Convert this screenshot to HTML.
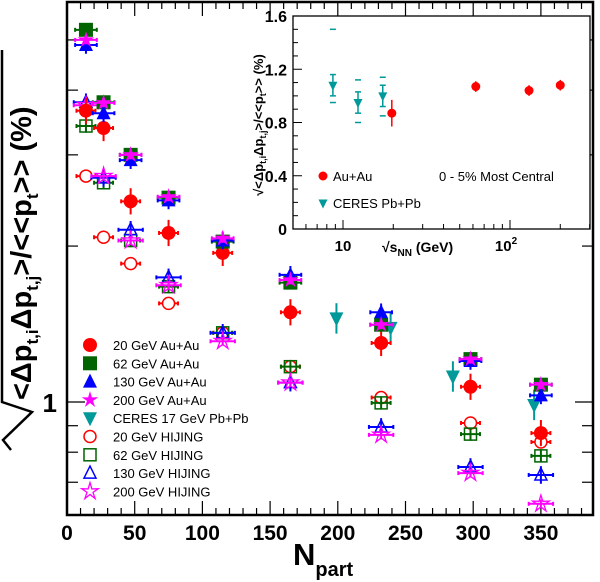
<!DOCTYPE html>
<html><head><meta charset="utf-8"><style>
body{margin:0;background:#fff}
svg{display:block;font-family:"Liberation Sans",Arial,sans-serif}
</style></head><body>
<svg id="c" width="600" height="582" viewBox="0 0 600 582"></svg>
<script>
// ---- main chart data ----
const npart = [14, 27, 47, 75, 115, 165, 232, 298, 350];
const au20 = [3.65, 3.38, 2.44, 2.12, 1.94, 1.49, 1.30, 1.07, 0.871];
const au62 = [5.23, 3.79, 3.00, 2.48, 2.04, 1.70, 1.41, 1.21, 1.08];
const au130 = [4.89, 3.61, 2.93, 2.45, 2.05, 1.76, 1.49, 1.20, 1.03];
const au200 = [5.00, 3.78, 3.00, 2.49, 2.07, 1.72, 1.41, 1.21, 1.08];
const ceresN = [199, 239, 285, 345];
const ceresV = [1.45, 1.39, 1.12, 0.987];
const hij20 = [2.73, 2.08, 1.85, 1.55, 1.36, 1.17, 1.02, 0.911, 0.837];
const hij62 = [3.41, 2.65, 2.05, 1.67, 1.36, 1.17, 0.996, 0.867, 0.787];
const hij130 = [3.79, 2.71, 2.15, 1.74, 1.36, 1.09, 0.895, 0.749, 0.723];
const hij200 = [3.74, 2.73, 2.05, 1.68, 1.31, 1.09, 0.864, 0.729, 0.636];
const xTicks = [0, 50, 100, 150, 200, 250, 300, 350];
const yTicks = [0.7, 0.8, 0.9, 1, 2, 3, 4, 5];
// ---- inset data ----
const insCeresE = [8.7, 12.3, 17.3];
const insCeresV = [1.08, 0.95, 1.00];
const insCeresSysHi = [1.50, 1.12, 1.14];
const insCeresSysLo = [0.95, 0.80, 0.85];
const insAuE = [19.6, 62.4, 130, 200];
const insAuV = [0.87, 1.07, 1.04, 1.08];
const insYTicks = [0, 0.4, 0.8, 1.2, 1.6];

const svg = document.getElementById('c');
const NS = 'http://www.w3.org/2000/svg';
function mk(tag, at, parent){const e=document.createElementNS(NS,tag);for(const k in at)e.setAttribute(k,at[k]);(parent||svg).appendChild(e);return e;}

const L=67,R=593,T=2,B=515;
const X = n => L + n*1.354;
const Y = v => 402 - 518*Math.log10(v);

const frame = mk('rect',{x:L,y:T,width:R-L,height:B-T,fill:'none',stroke:'#000','stroke-width':2.5});



for(let n=0;n<=385;n+=10){
  const len = n%50===0?14:7;
  mk('line',{x1:X(n),x2:X(n),y1:B,y2:B-len,stroke:'#000','stroke-width':1.2});
  mk('line',{x1:X(n),x2:X(n),y1:T,y2:T+len,stroke:'#000','stroke-width':1.2});
}
xTicks.forEach(t=>{
  const tx=mk('text',{x:X(t),y:540,'text-anchor':'middle','font-size':21,'font-weight':'bold'});
  tx.textContent=t;
  
  
});
yTicks.forEach(v=>{
  const len = v===1?18:11;
  mk('line',{x1:L,x2:L+len,y1:Y(v),y2:Y(v),stroke:'#000','stroke-width':1.2});
  mk('line',{x1:R,x2:R-len,y1:Y(v),y2:Y(v),stroke:'#000','stroke-width':1.2});
});
const one=mk('text',{x:57,y:Y(1)+10,'text-anchor':'end','font-size':26,'font-weight':'bold'});
one.textContent='1';



const xt=mk('text',{x:293,y:565,'font-size':31,'font-weight':'bold'});
xt.innerHTML='N<tspan font-size="20" dy="11">part</tspan>';



const ytg=mk('g',{transform:'translate(33,250) rotate(-90)'});


mk('path',{d:'M-200,-22 L-190,-30 L-162,-1 L-152,-31 L200,-31',fill:'none',stroke:'#000','stroke-width':2.5},ytg);
const yt=mk('text',{x:-150,y:-2,'font-size':29,'font-weight':'bold'},ytg);
yt.innerHTML='&lt;Δp<tspan font-size="17" dy="7">t,i</tspan><tspan dy="-7">Δp</tspan><tspan font-size="17" dy="7">t,j</tspan><tspan dy="-7">&gt;/&lt;&lt;p</tspan><tspan font-size="17" dy="7">t</tspan><tspan dy="-7">&gt;&gt; (%)</tspan>';

function marker(g,type,x,y,col,s){
  s=s||7;
  if(type==='circle') mk('circle',{cx:x,cy:y,r:s,fill:col},g);
  if(type==='ocircle') mk('circle',{cx:x,cy:y,r:s-1,fill:'#fff',stroke:col,'stroke-width':1.5},g);
  if(type==='square') mk('rect',{x:x-s,y:y-s,width:2*s,height:2*s,fill:col},g);
  if(type==='osquare') mk('rect',{x:x-s+1,y:y-s+1,width:2*s-2,height:2*s-2,fill:'none',stroke:col,'stroke-width':1.5},g);
  if(type==='tri') mk('path',{d:`M${x},${y-s-1}L${x+s},${y+s-1}L${x-s},${y+s-1}Z`,fill:col},g);
  if(type==='otri') mk('path',{d:`M${x},${y-s}L${x+s-1},${y+s-2}L${x-s+1},${y+s-2}Z`,fill:'none',stroke:col,'stroke-width':1.5},g);
  if(type==='dtri') mk('path',{d:`M${x-s},${y-s+1}L${x+s},${y-s+1}L${x},${y+s+1}Z`,fill:col},g);
  if(type==='star'||type==='ostar'){
    let p='';for(let i=0;i<10;i++){const r=i%2?s*0.45:s*1.25;const a=-Math.PI/2+i*Math.PI/5;p+=(i?'L':'M')+(x+r*Math.cos(a)).toFixed(1)+','+(y+r*Math.sin(a)).toFixed(1);}
    p+='Z';
    if(type==='star') mk('path',{d:p,fill:col},g);
    else mk('path',{d:p,fill:'none',stroke:col,'stroke-width':1.3},g);
  }
}
function series(name,xs,vals,type,col,xe,ye){
  const g=mk('g',{});
  
  
  xs.forEach((n,i)=>{
    const x=X(n),y=Y(vals[i]);
    if(xe) mk('line',{x1:X(n-xe),x2:X(n+xe),y1:y,y2:y,stroke:col,'stroke-width':2},g);
    const dy=Math.abs(Y(vals[i]*(1+ye))-y);
    mk('line',{x1:x,x2:x,y1:y-dy,y2:y+dy,stroke:col,'stroke-width':2},g);
    if(xe){mk('line',{x1:X(n-xe),x2:X(n-xe),y1:y-2,y2:y+2,stroke:col,'stroke-width':2},g);mk('line',{x1:X(n+xe),x2:X(n+xe),y1:y-2,y2:y+2,stroke:col,'stroke-width':2},g);}
    marker(g,type,x,y,col);
  });
}
const RED='#f00',GRN='#006400',BLU='#00f',MAG='#f0f',TEAL='#009999';
series('series-20gev-hijing',npart,hij20,'ocircle',RED,7,0.02);
series('series-62gev-hijing',npart,hij62,'osquare',GRN,7,0.03);
series('series-130gev-hijing',npart,hij130,'otri',BLU,9,0.04);
series('series-200gev-hijing',npart,hij200,'ostar',MAG,9,0.02);
series('series-ceres',ceresN,ceresV,'dtri',TEAL,0,0.07);
series('series-20gev-auau',npart,au20,'circle',RED,7,0.06);
series('series-62gev-auau',npart,au62,'square',GRN,8,0.03);
series('series-130gev-auau',npart,au130,'tri',BLU,8,0.04);
series('series-200gev-auau',npart,au200,'star',MAG,8,0.02);

const legNames=['20 GeV Au+Au','62 GeV Au+Au','130 GeV Au+Au','200 GeV Au+Au','CERES 17 GeV Pb+Pb','20 GeV HIJING','62 GeV HIJING','130 GeV HIJING','200 GeV HIJING'];
const legTypes=['circle','square','tri','star','dtri','ocircle','osquare','otri','ostar'];
const legCols=[RED,GRN,BLU,MAG,TEAL,RED,GRN,BLU,MAG];
legNames.forEach((nm,i)=>{
  const g=mk('g',{});
  
  
  const y=345+i*18.3;
  marker(g,legTypes[i],90,y,legCols[i],7);
  const t=mk('text',{x:113,y:y+5,'font-size':13},g);
  t.textContent=nm;
});

// ---- inset ----
const iL=293,iR=590,iT=16,iB=229;
const IX = e => 343 + 167*Math.log10(e/10);
const IY = v => iB - (iB-iT)*v/1.6;
const ig=mk('g',{});


mk('rect',{x:iL,y:iT,width:iR-iL,height:iB-iT,fill:'#fff',stroke:'#000','stroke-width':1.3},ig);
for(let v=0;v<=1.6001;v+=0.1){
  const major=Math.round(v*10)%4===0;
  mk('line',{x1:iL,x2:iL+(major?9:5),y1:IY(v),y2:IY(v),stroke:'#000','stroke-width':1},ig);
}
insYTicks.forEach(v=>{
  const t=mk('text',{x:iL-6,y:IY(v)+6,'text-anchor':'end','font-size':16,'font-weight':'bold'},ig);
  t.textContent=v===0?'0':v.toFixed(1);
  
  
});
[6,7,8,9,10,20,30,40,50,60,70,80,90,100,200,300].forEach(e=>{
  const x=IX(e); if(x<iL||x>iR) return;
  const major=(e===10||e===100);
  mk('line',{x1:x,x2:x,y1:iB,y2:iB-(major?9:5),stroke:'#000','stroke-width':1},ig);
});
const l10=mk('text',{x:IX(10),y:251,'text-anchor':'middle','font-size':15,'font-weight':'bold'},ig);l10.textContent='10';
const l100=mk('text',{x:IX(100)-4,y:251,'text-anchor':'middle','font-size':15,'font-weight':'bold'},ig);l100.innerHTML='10<tspan font-size="10" dy="-7">2</tspan>';
const ixt=mk('text',{x:382,y:252,'font-size':14,'font-weight':'bold'},ig);
ixt.innerHTML='√s<tspan font-size="10" dy="4">NN</tspan><tspan dy="-4"> (GeV)</tspan>';


const iyg=mk('g',{transform:'translate(263,125) rotate(-90)'},ig);


const iyt=mk('text',{x:0,y:0,'text-anchor':'middle','font-size':13,'font-weight':'bold'},iyg);
iyt.innerHTML='√&lt;Δp<tspan font-size="9" dy="3">t,i</tspan><tspan dy="-3">Δp</tspan><tspan font-size="9" dy="3">t,j</tspan><tspan dy="-3">&gt;/&lt;&lt;p</tspan><tspan font-size="9" dy="3">t</tspan><tspan dy="-3">&gt;&gt; (%)</tspan>';
insCeresE.forEach((e,i)=>{
  const x=IX(e),y=IY(insCeresV[i]);
  mk('line',{x1:x,x2:x,y1:IY(insCeresV[i]+0.08),y2:IY(insCeresV[i]-0.08),stroke:TEAL,'stroke-width':1.5},ig);
  [insCeresSysHi[i],insCeresSysLo[i],insCeresV[i]+0.08,insCeresV[i]-0.08].forEach(v=>mk('line',{x1:x-3,x2:x+3,y1:IY(v),y2:IY(v),stroke:TEAL,'stroke-width':1.5},ig));
  marker(ig,'dtri',x,y,TEAL,4.5);
});
insAuE.forEach((e,i)=>{
  const x=IX(e),y=IY(insAuV[i]);
  const er=i===0?0.1:0.04;
  mk('line',{x1:x,x2:x,y1:IY(insAuV[i]+er),y2:IY(insAuV[i]-er),stroke:RED,'stroke-width':1.5},ig);
  marker(ig,'circle',x,y,RED,4.5);
});
marker(ig,'circle',323,176,RED,4.5);
const la=mk('text',{x:333,y:181,'font-size':13},ig);la.textContent='Au+Au';
marker(ig,'dtri',323,203,TEAL,4.5);
const lc=mk('text',{x:333,y:208,'font-size':13},ig);lc.textContent='CERES Pb+Pb';
const lm=mk('text',{x:439,y:181,'font-size':13},ig);lm.textContent='0 - 5% Most Central';
</script>
</body></html>
